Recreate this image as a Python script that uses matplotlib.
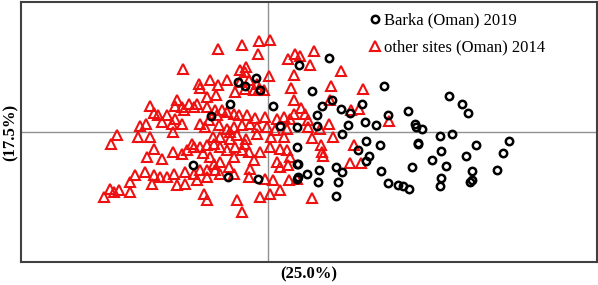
import matplotlib
matplotlib.use("Agg")
import matplotlib.pyplot as plt
from matplotlib.lines import Line2D

# PC scores (PC1 = 25.0%, PC2 = 17.5%)
other_x = [0.03, -0.19, -0.53, -1.01, -0.21, -1.71, -0.57, -0.44, -0.46, 0.01,
           -0.83, -1.17, -1.38, -1.36, -1.01, -0.56, -0.39, -0.23, -0.29, -0.19,
           -0.09, -0.46, -0.66, -1.04, -1.23, -1.43, -1.59, -1.83, -1.87, -1.73,
           -1.49, -1.69, -2.36, -2.28, -2.21, -2.03, -1.86, -2.57, -2.45, -2.13,
           -1.93, -1.91, -1.73, -1.36, -1.19, -1.23, -1.06, -0.93, -1.03, -0.83,
           -0.69, -0.59, -0.43, -0.26, -0.06, 0.17, 0.31, 0.44, 0.51, -1.26,
           -0.99, -0.83, -0.69, -0.53, -0.36, -0.23, -0.03, 0.13, 0.37, -3.03,
           -3.14, -2.61, -2.36, -2.29, -2.13, -1.91, -1.73, -1.63, -1.49, -1.36,
           -1.23, -1.09, -0.96, -0.83, -0.66, -0.53, -0.39, -0.17, 0.03, 0.24,
           0.37, 0.43, -1.16, -1.09, -0.96, -0.79, -1.23, -1.06, -1.36, -1.49,
           -1.66, -1.89, -2.03, -2.16, -2.29, -2.46, -2.66, -2.76, -2.33, -1.83,
           -1.66, -1.43, -1.23, -0.96, -0.69, -0.39, -0.06, 0.09, 0.24, 0.39,
           0.17, -0.36, -2.43, -3.28, -3.16, -2.99, -3.09, -2.76, -1.29, -1.23,
           -0.63, -0.53, -0.16, 0.04, 0.24, 0.41, 0.57,
           -1.53, -0.96, -0.76, -0.23, 0.05, 0.31, -0.44, -0.63, -1.11, -0.76,
           -1.31, -0.69, -0.29, -0.46,
           0.92, 0.83, 0.63, 1.45, 1.25, 1.89, 1.23, 0.65, 1.65, 1.82,
           0.73, 0.80, 0.80, 1.03, 1.22, 2.41, 0.87, 1.29, 1.05, 1.08,
           1.10, 1.72, 1.63, 1.85, 0.87,
           0.54, 0.39, 0.51, 0.45, 0.51]
other_y = [1.84, 1.83, 1.74, 1.67, 1.57, 1.27, 1.25, 1.31, 1.21, 1.12,
           1.04, 1.05, 0.97, 0.89, 0.94, 1.01, 1.04, 0.97, 0.84, 0.87,
           0.84, 0.87, 0.81, 0.74, 0.71, 0.57, 0.57, 0.64, 0.52, 0.51,
           0.51, 0.44, 0.52, 0.39, 0.34, 0.34, 0.27, 0.12, 0.17, 0.21,
           0.17, 0.01, 0.16, 0.17, 0.24, 0.51, 0.44, 0.44, 0.34, 0.41,
           0.37, 0.34, 0.34, 0.29, 0.31, 0.27, 0.31, 0.27, 0.37, 0.11,
           0.14, 0.07, 0.11, 0.14, 0.16, 0.11, 0.11, 0.05, 0.07, -0.06,
           -0.23, -0.09, -0.09, -0.33, -0.53, -0.39, -0.43, -0.36, -0.29, -0.29,
           -0.26, -0.23, -0.29, -0.36, -0.29, -0.36, -0.39, -0.39, -0.29, -0.33,
           -0.36, -0.49, -0.49, -0.63, -0.59, -0.69, -0.76, -0.76, -0.76, -0.83,
           -0.79, -0.83, -0.89, -0.89, -0.86, -0.79, -0.86, -0.99, -1.03, -1.06,
           -1.03, -0.96, -0.89, -0.83, -0.83, -0.89, -0.93, -0.96, -0.69, -0.66,
           -0.59, -0.73, -0.49, -1.29, -1.13, -1.16, -1.19, -1.19, -1.23, -1.36,
           -1.36, -1.59, -1.29, -1.23, -1.16, -0.96, -0.93,
           -0.23, -0.09, 0.01, -0.03, -0.09, -0.09, -0.13, -0.06, -0.09, -0.13,
           -0.41, -0.49, -0.56, -0.23,
           1.62, 1.35, 1.52, 1.23, 0.92, 0.87, 0.65, 0.49, 0.44, 0.47,
           0.37, 0.25, 0.11, 0.07, 0.17, 0.23, -0.11, -0.09, -0.25, -0.39,
           -0.48, -0.26, -0.61, -0.61, -1.31,
           1.57, 1.47, 1.14, 0.89, 0.64]

barka_x = [-0.25, -0.61, -0.46, -0.16, -0.77, 0.09, -1.15, 0.23, 0.57, 0.57,
           -1.51, -0.81, -0.21, 0.57, 0.57, 0.61,
           1.21, 0.88, 2.31, 1.27, 1.07, 1.45, 1.88, 0.97, 1.63, 1.93,
           1.59, 2.16, 2.39, 2.79, 2.93, 2.95, 3.08, 1.47, 3.43, 3.68,
           3.62, 3.87, 4.00, 0.97, 1.95, 2.23, 1.79, 2.02, 1.95, 2.99,
           3.00, 3.45, 4.15, 4.81, 4.70, 3.95, 3.27, 3.55, 2.87, 4.07,
           4.57, 3.45, 4.03, 4.07, 3.43, 2.25, 2.39, 2.59, 2.69, 2.81,
           1.47, 1.35, 1.02, 1.00, 1.40, 1.35, 0.78, 0.60, 0.60]
barka_y = [1.09, 1.01, 0.92, 0.85, 0.56, 0.53, 0.32, 0.12, 0.11, -0.29,
           -0.65, -0.89, -0.93, -0.63, -0.93, 1.34,
           1.49, 0.83, 0.92, 0.64, 0.52, 0.47, 0.56, 0.34, 0.39, 0.21,
           0.15, 0.15, 0.35, 0.43, 0.16, 0.11, 0.06, -0.04, -0.08, -0.04,
           0.73, 0.56, 0.39, 0.12, -0.17, -0.25, -0.35, -0.48, -0.57, -0.21,
           -0.24, -0.37, -0.25, -0.17, -0.41, -0.48, -0.56, -0.67, -0.70, -0.77,
           -0.75, -0.91, -0.99, -0.96, -1.08, -0.77, -1.01, -1.06, -1.07, -1.13,
           -0.79, -0.69, -0.75, -0.99, -0.99, -1.28, -0.84, -0.89, -0.63]

labels = ["Barka (Oman) 2019", "other sites (Oman) 2014"]
x_label = "(25.0%)"
y_label = "(17.5%)"

RED = "#ee1111"

fig = plt.figure(figsize=(5.98, 2.85), dpi=100)
ax = fig.add_axes([21 / 598, 1 - 262 / 285, 576 / 598, 260 / 285])
ax.set_xlim(-4.94, 6.58)
ax.set_ylim(-2.6, 2.6)
ax.axhline(0, color="#909090", lw=1.0, zorder=1)
ax.axvline(0, color="#909090", lw=1.0, zorder=1)

ax.plot(other_x, other_y, ls="none", marker="^", ms=7.3, mfc="none",
        mec=RED, mew=1.5, zorder=2)
ax.plot(barka_x, barka_y, ls="none", marker="o", ms=5.3, mfc="none",
        mec="black", mew=1.8, zorder=3)

ax.set_xticks([])
ax.set_yticks([])
for s in ax.spines.values():
    s.set_linewidth(1.5)
    s.set_color("#404040")

ax.set_xlabel(x_label, fontfamily="Liberation Serif", fontweight="bold",
              fontsize=12, labelpad=3)
ax.set_ylabel(y_label, fontfamily="Liberation Serif", fontweight="bold",
              fontsize=12, labelpad=2)

handles = [
    Line2D([], [], ls="none", marker="o", ms=5.3, mfc="none", mec="black", mew=1.8),
    Line2D([], [], ls="none", marker="^", ms=7.3, mfc="none", mec=RED, mew=1.5),
]
ax.legend(handles, labels, loc="upper left", bbox_to_anchor=(0.595, 0.985),
          frameon=False, handlelength=0.6, handletextpad=0.2,
          labelspacing=0.65, borderaxespad=0,
          prop={"family": "Liberation Serif", "size": 12})

fig.savefig("out.png", dpi=100)
